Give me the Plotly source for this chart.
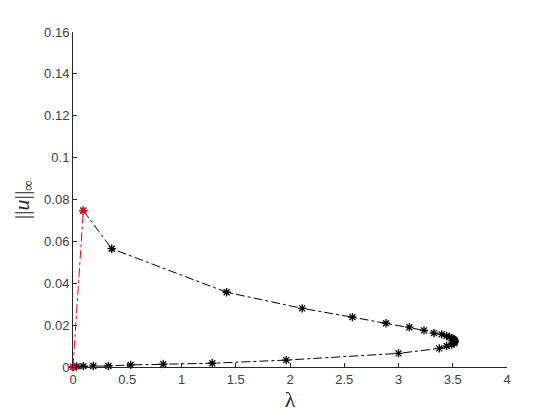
import plotly.graph_objects as go

# red branch
red_lam = [0.0, 0.095]
red_u = [0.0, 0.0747]

# black branch (upper then lower)
blk_lam = [0.095, 0.357, 1.416, 2.113, 2.575, 2.885, 3.10, 3.235, 3.327, 3.398, 3.444,
           3.47, 3.49, 3.505, 3.515, 3.52, 3.518, 3.51, 3.49, 3.444, 3.376, 3.0,
           1.965, 1.284, 0.832, 0.532, 0.326, 0.187, 0.095, 0.034, 0.0]
blk_u = [0.0747, 0.0565, 0.0357, 0.0280, 0.0238, 0.0209, 0.0190, 0.0175, 0.0162, 0.0156, 0.0148,
         0.0143, 0.0138, 0.0133, 0.0128, 0.0124, 0.0119, 0.0114, 0.0107, 0.0100, 0.0089, 0.0065,
         0.0033, 0.0018, 0.0014, 0.0010, 0.0005, 0.0005, 0.0004, 0.0003, 0.0]

x_ticks = [0, 0.5, 1, 1.5, 2, 2.5, 3, 3.5, 4]
y_ticks = [0, 0.02, 0.04, 0.06, 0.08, 0.1, 0.12, 0.14, 0.16]

fig = go.Figure()
fig.add_trace(go.Scatter(
    x=blk_lam, y=blk_u, mode="lines+markers",
    line=dict(color="black", width=1, dash="dashdot"),
    marker=dict(symbol="asterisk-open", size=7, color="black", line=dict(color="black", width=1.3)),
    showlegend=False, cliponaxis=False))
fig.add_trace(go.Scatter(
    x=red_lam, y=red_u, mode="lines+markers",
    line=dict(color="red", width=1, dash="dashdot"),
    marker=dict(symbol="asterisk-open", size=7, color="red", line=dict(color="red", width=1.3)),
    showlegend=False, cliponaxis=False))

axis_common = dict(showgrid=False, zeroline=False, showline=True, linecolor="#262626",
                   linewidth=1, ticks="inside", ticklen=4, tickcolor="#262626", automargin=False,
                   tickfont=dict(family="Liberation Sans, Arial", size=13, color="#404040"))

# page has an 8px body margin, so the figure is shrunk by 8px and margins shifted
fig.update_layout(
    width=552, height=412,
    margin=dict(l=65, r=53, t=24, b=53),
    paper_bgcolor="white", plot_bgcolor="white",
    xaxis=dict(range=[0, 4], tickvals=x_ticks, ticktext=[str(v) for v in x_ticks],
               title=dict(text="λ", font=dict(family="Liberation Serif, Times New Roman", size=22, color="#262626"),
                          standoff=4),
               **axis_common),
    yaxis=dict(range=[0, 0.16], tickvals=y_ticks, ticktext=[f"{v:g}" for v in y_ticks],
               title=dict(text="||<i>u</i>||<sub>∞</sub>", font=dict(family="Liberation Serif, Times New Roman", size=22, color="#262626"),
                          standoff=8),
               **axis_common),
)

fig.write_html("out.html")
